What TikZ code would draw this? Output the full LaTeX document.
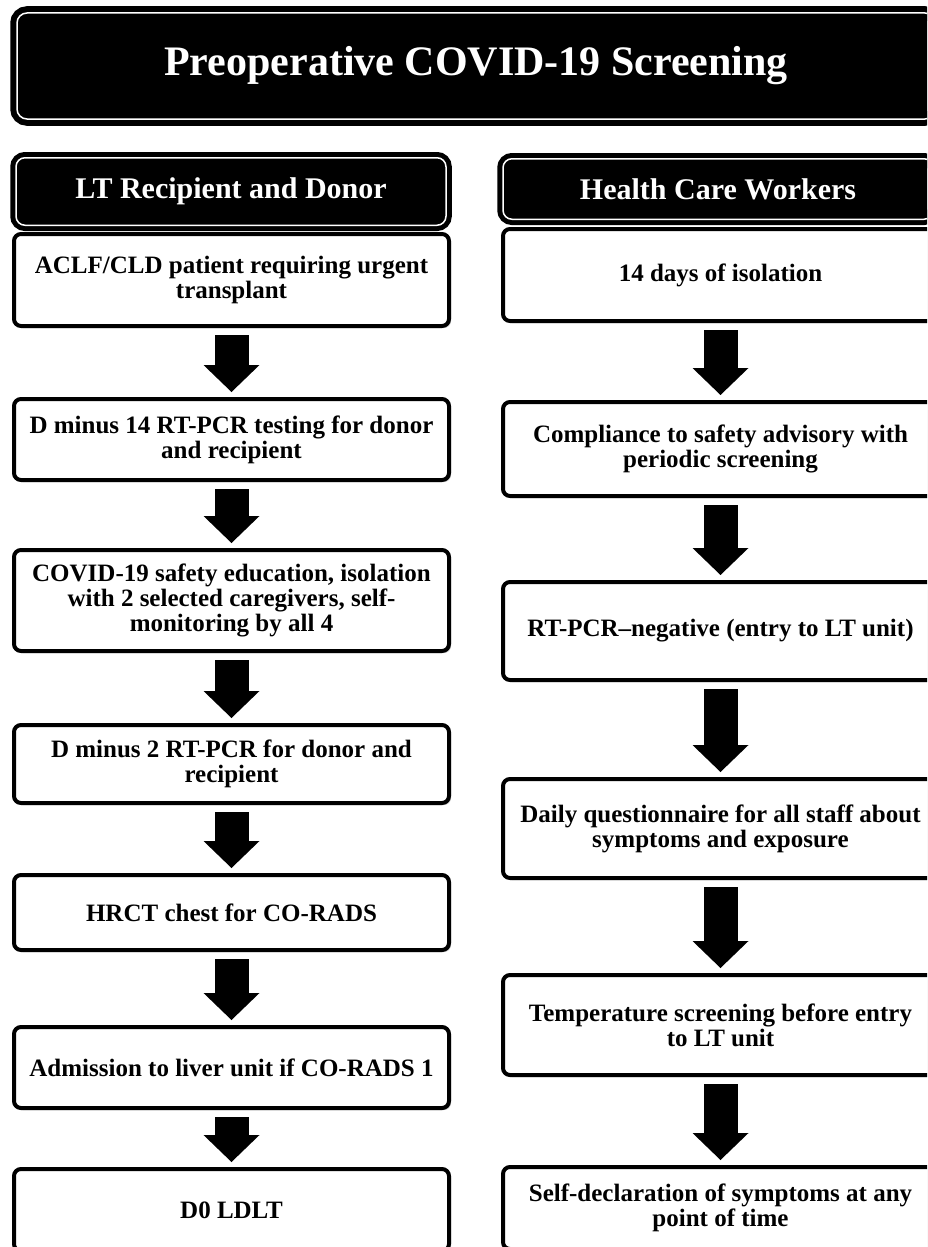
\documentclass[tikz,border=0pt]{standalone}
\usepackage{fontspec}
\setmainfont{Liberation Serif}
\usepackage{tikz}
\usetikzlibrary{positioning, arrows.meta, shadows}

\begin{document}
\begin{tikzpicture}[x=1pt, y=-1pt,
        titlebox/.style={rounded corners=10pt, fill=black, draw=black, double=white, double distance=1.5pt, line width=6pt, text=white, font=\fontsize{42}{42}\selectfont\bfseries, minimum width=918pt, minimum height=106pt},
        headbox/.style={rounded corners=9pt, fill=black, draw=black, double=white, double distance=1.5pt, line width=5pt, text=white, font=\fontsize{30}{30}\selectfont\bfseries, minimum width=430pt, minimum height=67.5pt},
        stepbox/.style={draw=black, line width=4pt, fill=white, rounded corners=7pt, minimum width=435pt, align=center, font=\fontsize{25}{25}\selectfont\bfseries, drop shadow={shadow xshift=2pt, shadow yshift=-2pt, opacity=0.35, fill=black!60}},
        flow/.style={line width=34pt, -{Triangle[length=27pt, width=56pt, line width=0pt]}, shorten <=7pt, shorten >=5pt}]
            \useasboundingbox (0,0) rectangle (927,1247);
            \clip (0,0) rectangle (927,1247);

            \node[titlebox] (title) at (476,66) {Preoperative COVID-19 Screening};

            \node[headbox] (lhead) at (231,191.5) {LT Recipient and Donor};
            \node[headbox, minimum height=60.5pt] (rhead) at (718,189) {Health Care Workers};

            \node[stepbox, minimum height=92pt] (l1) at (231.5,280) {ACLF/CLD patient requiring urgent\\transplant};
            \node[stepbox, minimum height=81pt] (l2) at (231.5,439.5) {D minus 14 RT-PCR testing for donor\\and recipient};
            \node[stepbox, minimum height=101pt] (l3) at (231.5,600.5) {COVID-19 safety education, isolation\\with 2 selected caregivers, self-\\monitoring by all 4};
            \node[stepbox, minimum height=78pt] (l4) at (231.5,764) {D minus 2 RT-PCR for donor and\\recipient};
            \node[stepbox, minimum height=75pt] (l5) at (231.5,912.5) {HRCT chest for CO-RADS};
            \node[stepbox, minimum height=81pt] (l6) at (231.5,1067.5) {Admission to liver unit if CO-RADS 1};
            \node[stepbox, minimum height=82pt] (l7) at (231.5,1210) {D0 LDLT};

            \node[stepbox, minimum height=92pt] (r1) at (720.5,275) {14 days of isolation};
            \node[stepbox, minimum height=94pt] (r2) at (720.5,449) {Compliance to safety advisory with\\periodic screening};
            \node[stepbox, minimum height=98pt] (r3) at (720.5,631) {RT-PCR--negative (entry to LT unit)};
            \node[stepbox, minimum height=99pt] (r4) at (720.5,828.5) {Daily questionnaire for all staff about\\symptoms and exposure};
            \node[stepbox, minimum height=100pt] (r5) at (720.5,1025) {Temperature screening before entry\\to LT unit};
            \node[stepbox, minimum height=82pt] (r6) at (720.5,1208) {Self-declaration of symptoms at any\\point of time};

            \draw[flow] (l1.south) -- (l2.north);
            \draw[flow] (l2.south) -- (l3.north);
            \draw[flow] (l3.south) -- (l4.north);
            \draw[flow] (l4.south) -- (l5.north);
            \draw[flow] (l5.south) -- (l6.north);
            \draw[flow] (l6.south) -- (l7.north);

            \draw[flow] (r1.south) -- (r2.north);
            \draw[flow] (r2.south) -- (r3.north);
            \draw[flow] (r3.south) -- (r4.north);
            \draw[flow] (r4.south) -- (r5.north);
            \draw[flow] (r5.south) -- (r6.north);
        \end{tikzpicture}
\end{document}
